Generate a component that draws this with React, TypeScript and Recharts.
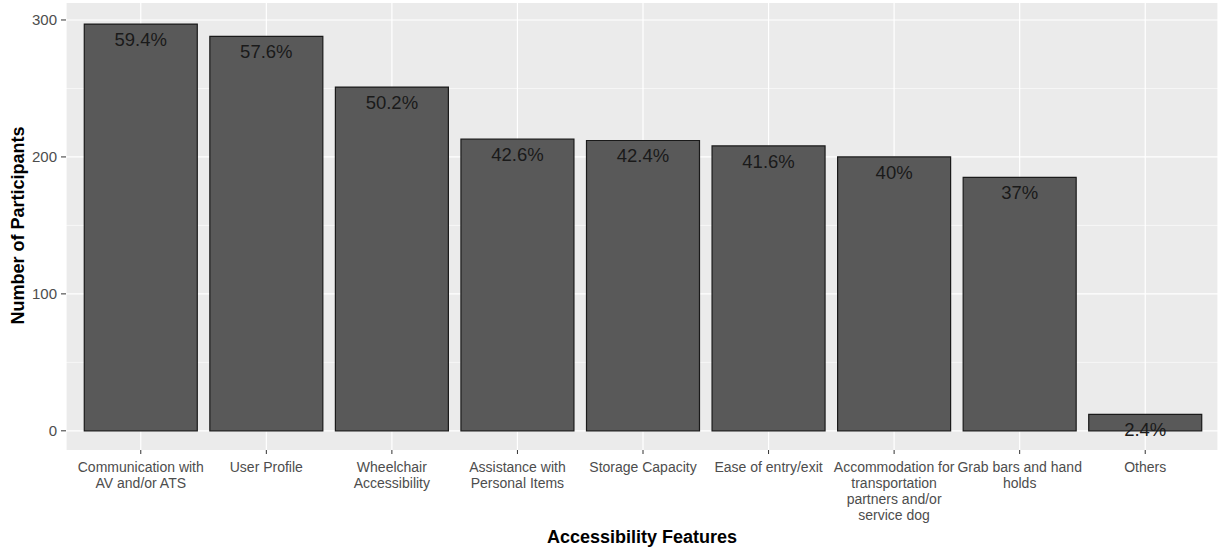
import { Bar, BarChart, CartesianGrid, LabelList, Label, XAxis, YAxis } from 'recharts';

const features = [
  'Communication with\nAV and/or ATS',
  'User Profile',
  'Wheelchair\nAccessibility',
  'Assistance with\nPersonal Items',
  'Storage Capacity',
  'Ease of entry/exit',
  'Accommodation for\ntransportation\npartners and/or\nservice dog',
  'Grab bars and hand\nholds',
  'Others',
];
const participants = [297, 288, 251, 213, 212, 208, 200, 185, 12];
const percentLabels = ['59.4%', '57.6%', '50.2%', '42.6%', '42.4%', '41.6%', '40%', '37%', '2.4%'];
const yTicks = [0, 100, 200, 300];
const minorTicks = [50, 150, 250];

const data = features.map((feature, i) => ({
  feature,
  count: participants[i],
  pct: percentLabels[i],
}));

const FONT = '"Liberation Sans", Arial, sans-serif';

function FeatureTick({ x, y, payload }: any) {
  const lines = String(payload.value).split('\n');
  return (
    <text x={x} y={y} textAnchor="middle" fontFamily={FONT} fontSize={14} fill="#4d4d4d">
      {lines.map((line, i) => (
        <tspan key={i} x={x} dy={16}>
          {line}
        </tspan>
      ))}
    </text>
  );
}

function PctLabel({ x, y, width, value }: any) {
  return (
    <text
      x={x + width / 2}
      y={y + 15.5}
      textAnchor="middle"
      dominantBaseline="central"
      fontFamily={FONT}
      fontSize={18.5}
      fill="#1a1a1a"
    >
      {value}
    </text>
  );
}

function YTitle({ viewBox }: any) {
  const cx = viewBox.x + 18;
  const cy = viewBox.y + viewBox.height / 2 - 1;
  return (
    <text
      x={cx}
      y={cy}
      transform={`rotate(-90, ${cx}, ${cy})`}
      textAnchor="middle"
      dominantBaseline="central"
      fontFamily={FONT}
      fontSize={18}
      fontWeight="bold"
      fill="#000"
    >
      Number of Participants
    </text>
  );
}

function XTitle({ viewBox }: any) {
  return (
    <text
      x={viewBox.x + viewBox.width / 2}
      y={543}
      textAnchor="middle"
      fontFamily={FONT}
      fontSize={18}
      fontWeight="bold"
      fill="#000"
    >
      Accessibility Features
    </text>
  );
}

export default function App() {
  return (
    <div style={{ position: 'absolute', left: 0, top: 0, width: 1218, height: 549, background: '#fff' }}>
      <BarChart
        width={1218}
        height={549}
        data={data}
        margin={{ top: 3, right: 0, left: 0, bottom: 0 }}
        barCategoryGap="5%"
      >
        <CartesianGrid
          fill="#ebebeb"
          stroke="#ffffff"
          strokeWidth={1.2}
          horizontalValues={yTicks}
        />
        <CartesianGrid
          stroke="#ffffff"
          strokeWidth={0.6}
          vertical={false}
          horizontalValues={minorTicks}
        />
        <XAxis
          dataKey="feature"
          type="category"
          height={99}
          padding={{ left: 12, right: 10 }}
          axisLine={false}
          tickLine={{ stroke: '#333333' }}
          tickSize={4}
          tickMargin={2}
          interval={0}
          tick={<FeatureTick />}
        >
          <Label content={<XTitle />} />
        </XAxis>
        <YAxis
          type="number"
          width={66}
          domain={[-14, 312.4]}
          allowDataOverflow
          ticks={yTicks}
          axisLine={false}
          tickLine={{ stroke: '#333333' }}
          tickSize={5}
          tickMargin={4}
          tick={{ fill: '#4d4d4d', fontSize: 15, fontFamily: FONT }}
        >
          <Label content={<YTitle />} />
        </YAxis>
        <Bar dataKey="count" fill="#595959" stroke="#1a1a1a" strokeWidth={1.2} isAnimationActive={false}>
          <LabelList dataKey="pct" content={<PctLabel />} />
        </Bar>
      </BarChart>
    </div>
  );
}
